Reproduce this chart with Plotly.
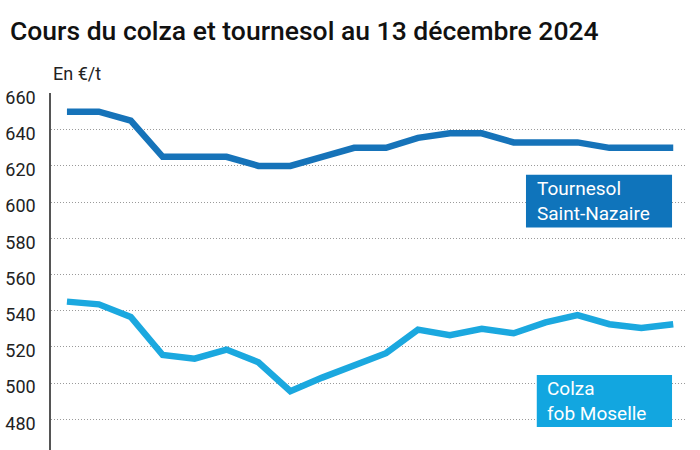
import plotly.graph_objects as go

# Data
points = list(range(20))
tournesol = [650, 650, 645, 625, 625, 625, 620, 620, 625, 630,
             630, 635.5, 638, 638, 633, 633, 633, 630, 630, 630]
colza = [545, 543.5, 536.5, 515.5, 513.5, 518.5, 511.5, 495.5, 503, 510,
         516.5, 529.5, 526.5, 530, 527.5, 533.5, 537.5, 532.5, 530.5, 532.5]
y_ticks = [480, 500, 520, 540, 560, 580, 600, 620, 640, 660]

C_TOUR = "#1673b9"
C_COLZA = "#1ba8df"
FONT = "Roboto"

fig = go.Figure()
fig.add_trace(go.Scatter(x=points, y=tournesol, mode="lines",
                         line=dict(color=C_TOUR, width=6.5), hoverinfo="skip"))
fig.add_trace(go.Scatter(x=points, y=colza, mode="lines",
                         line=dict(color=C_COLZA, width=6.5), hoverinfo="skip"))

# Label boxes
fig.add_shape(type="rect", xref="paper", yref="y", x0=0.748, x1=0.978, y0=585.9, y1=615.1,
              fillcolor="#0f74bb", line=dict(width=0), layer="above")
fig.add_shape(type="rect", xref="paper", yref="y", x0=0.765, x1=0.978, y0=475.7, y1=504.4,
              fillcolor="#12a6e0", line=dict(width=0), layer="above")

def label(text, x, y):
    fig.add_annotation(text=text, xref="paper", yref="y", x=x, y=y,
                       xanchor="left", yanchor="middle", showarrow=False, borderpad=0,
                       align="left", font=dict(family=FONT, size=19, color="white"))

label("Tournesol<br>Saint-Nazaire", 0.763, 600.5)
label("Colza<br>fob Moselle", 0.780, 490.0)

# Unit label
fig.add_annotation(text="En €/t", xref="paper", yref="paper", x=0.0, y=1.0,
                   xanchor="left", yanchor="bottom", yshift=7, showarrow=False,
                   font=dict(family=FONT, size=18, color="#222"))

fig.update_layout(
    width=700, height=450,
    margin=dict(l=51, r=14, t=92.5, b=0, autoexpand=False),
    paper_bgcolor="white", plot_bgcolor="white",
    showlegend=False,
    title=dict(text="Cours du colza et tournesol au 13 décembre 2024",
               xref="container", yref="container", x=0.0, y=0.931,
               xanchor="left", yanchor="middle", pad=dict(l=10),
               font=dict(family=FONT, size=26.5, color="#111", weight=500)),
    xaxis=dict(range=[-0.5, 19.4], showgrid=False, zeroline=False,
               showticklabels=False, showline=False, fixedrange=True,
               automargin=False),
    yaxis=dict(range=[463, 660.3], tickvals=y_ticks,
               ticktext=[str(v) for v in y_ticks],
               showgrid=True, gridcolor="#9a9a9a", griddash="1px,2px", gridwidth=1,
               zeroline=False, showline=True, linecolor="#555", linewidth=1.5,
               ticks="", ticklabelstandoff=10, ticklabelshift=4, automargin=False,
               tickfont=dict(family=FONT, size=18, color="#222"), fixedrange=True),
)

# Remove the default 8px page margin so the figure sits at the window's corner.
fig.write_html("out.html", config={"displayModeBar": False},
               post_script="document.body.style.margin='0';document.body.style.overflow='hidden';")
